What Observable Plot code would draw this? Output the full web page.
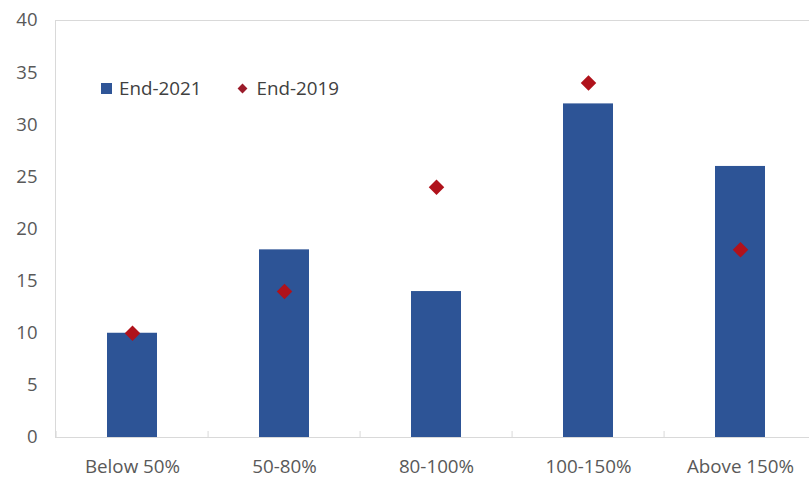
<!DOCTYPE html>
<html>
<head>
<meta charset="utf-8">
<script src="https://cdn.jsdelivr.net/npm/d3@7"></script>
<script src="https://cdn.jsdelivr.net/npm/@observablehq/plot@0.6"></script>
<style>
  html, body { margin: 0; padding: 0; background: #fff; }
  #wrap { position: relative; width: 809px; height: 478px; overflow: hidden; font-family: "Open Sans", sans-serif; }
  #legend { position: absolute; left: 101px; top: 75px; display: flex; align-items: center; font-size: 18.8px; color: #404040; }
  #legend .item { display: flex; align-items: center; }
  #legend .sq { width: 11px; height: 11px; background: #2f5597; margin-right: 7px; }
  #legend .dm { width: 7px; height: 7px; background: #9b1b2a; transform: rotate(45deg); margin-right: 10px; margin-left: 38px; }
  svg { overflow: hidden; }
</style>
</head>
<body>
<div id="wrap">
  <div id="chart"></div>
  <div id="legend"></div>
</div>
<script>
const categories = ["Below 50%", "50-80%", "80-100%", "100-150%", "Above 150%"];
const end2021 = [10, 18, 14, 32, 26];
const end2019 = [10, 14, 24, 34, 18];
const yTicks = [0, 5, 10, 15, 20, 25, 30, 35, 40];
const seriesNames = ["End-2021", "End-2019"];

const rows = categories.map((c, i) => ({category: c, v2021: end2021[i], v2019: end2019[i]}));

// category separator ticks on the baseline (between bands)
function separators(index, scales, values, dimensions) {
  const x = scales.x, y = scales.y;
  const step = x.step(), pad = step * x.paddingInner() / 2;
  const y0 = y(0);
  const g = d3.create("svg:g");
  const bounds = categories.map(c => x(c) - pad);
  bounds.push(x(categories[categories.length - 1]) + x.bandwidth() + pad);
  for (const b of bounds) {
    g.append("line").attr("x1", b).attr("x2", b).attr("y1", y0 - 6).attr("y2", y0)
      .attr("stroke", "#d9d9d9").attr("stroke-width", 1);
  }
  return g.node();
}

const chart = Plot.plot({
  width: 809,
  height: 478,
  marginLeft: 55,
  marginRight: -9,
  marginTop: 20,
  marginBottom: 41,
  style: {fontFamily: "Open Sans, sans-serif", fontSize: "18px", color: "#595959", background: "#fff"},
  x: {domain: categories, paddingInner: 0.67, paddingOuter: 0.335, label: null},
  y: {domain: [0, 40], label: null},
  marks: [
    Plot.frame({stroke: "#d9d9d9"}),
    Plot.axisY({ticks: yTicks, tickSize: 0, tickPadding: 18, label: null, fontSize: 18.5}),
    Plot.axisX({tickSize: 0, tickPadding: 22, label: null, fontSize: 18.8}),
    Plot.barY(rows, {x: "category", y: "v2021", fill: "#2d5496"}),
    Plot.ruleY([0], {stroke: "#d9d9d9"}),
    separators,
    Plot.dot(rows, {x: "category", y: "v2019", symbol: "diamond2", r: 7, fill: "#b0121b", stroke: "none"})
  ]
});
document.getElementById("chart").appendChild(chart);

const legend = document.getElementById("legend");
legend.innerHTML =
  `<div class="item"><div class="sq"></div><span>${seriesNames[0]}</span></div>` +
  `<div class="item"><div class="dm"></div><span>${seriesNames[1]}</span></div>`;
</script>
</body>
</html>
